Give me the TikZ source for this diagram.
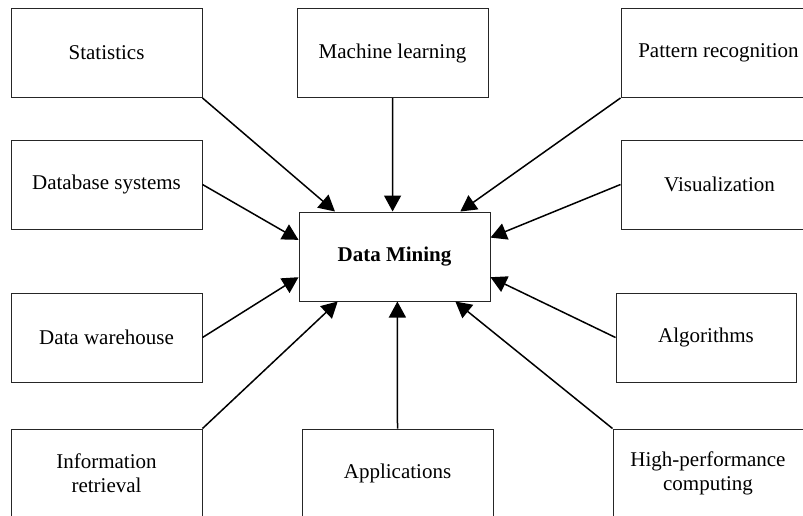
\documentclass[tikz,border=0pt]{standalone}
\usepackage{fontspec}
\setmainfont{Liberation Serif}
\usetikzlibrary{arrows.meta,calc}
\begin{document}
\begin{tikzpicture}[x=1pt,y=-1pt,
  box/.style={draw=black!85, line width=1pt, minimum width=191pt, minimum height=89pt,
    inner sep=0pt, align=center, font=\fontsize{21}{24}\selectfont},
  conn/.style={line width=1.5pt, -{Triangle[length=16pt,width=17pt]}}]
\useasboundingbox (0,0) rectangle (803,515);
\clip (0,0) rectangle (803,515);
\node[box] (stat) at (106.5,53) {Statistics};
\node[box] (ml) at (392.5,53) {Machine learning};
\node[box, minimum width=195pt] (pr) at (718.5,53) {Pattern recognition};
\node[box] (db) at (106.5,184.5) {Database systems};
\node[box, minimum width=197pt] (vis) at (719.5,184.5) {Visualization};
\node[box, font=\fontsize{21}{24}\selectfont\bfseries] (dm) at (394.5,256.5) {Data Mining};
\node[box] (dw) at (106.5,337.5) {Data warehouse};
\node[box, minimum width=180pt] (alg) at (706,337.5) {Algorithms};
\node[box] (ir) at (106.5,473.5) {Information\\retrieval};
\node[box] (app) at (397.5,473.5) {Applications};
\node[box, minimum width=190pt] (hp) at (708,473.5) {High-performance\\computing};
\draw[conn] (stat.south east) -- ($(dm.north west)!0.19!(dm.north east)$);
\draw[conn] (ml.south) -- ($(dm.north west)!0.49!(dm.north east)$);
\draw[conn] (pr.south west) -- ($(dm.north west)!0.843!(dm.north east)$);
\draw[conn] (db.east) -- ($(dm.north west)!0.315!(dm.south west)$);
\draw[conn] (vis.west) -- ($(dm.north east)!0.29!(dm.south east)$);
\draw[conn] (dw.east) -- ($(dm.north west)!0.73!(dm.south west)$);
\draw[conn] (alg.west) -- ($(dm.north east)!0.73!(dm.south east)$);
\draw[conn] (ir.north east) -- ($(dm.south west)!0.204!(dm.south east)$);
\draw[conn] (app.north) -- ($(dm.south west)!0.515!(dm.south east)$);
\draw[conn] (hp.north west) -- ($(dm.south west)!0.817!(dm.south east)$);
\end{tikzpicture}
\end{document}
